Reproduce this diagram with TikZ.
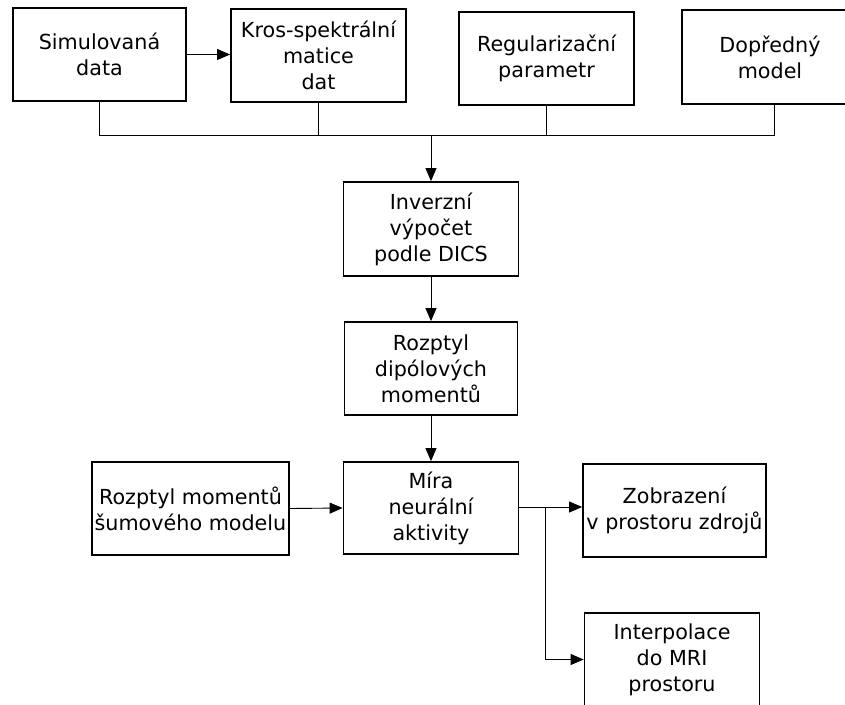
\documentclass[tikz,border=0pt]{standalone}
\usepackage{fontspec}
\setmainfont{DejaVu Sans}
\usetikzlibrary{arrows.meta,calc}
\begin{document}
\begin{tikzpicture}[x=1pt,y=-1pt,
  box/.style={draw, line width=1.8pt, align=center, inner sep=0pt,
    font=\fontsize{20.7}{26}\selectfont},
  link/.style={line width=0.9pt},
  arr/.style={link, -{Triangle[length=13pt,width=11pt]}}]
\useasboundingbox (0,0) rectangle (845,704);
\clip (0,0) rectangle (845,704);

% input blocks
\node[box, minimum width=173pt, minimum height=93pt] (sim) at (99.5,54.5) {Simulovaná\\data};
\node[box, minimum width=175pt, minimum height=93pt] (kros) at (318.5,55.5) {Kros-spektrální\\matice\\dat};
\node[box, minimum width=175pt, minimum height=93pt] (reg) at (546.5,58.5) {Regularizační\\parametr};
\node[box, minimum width=176pt, minimum height=94pt] (dop) at (770,57) {Dopředný\\model};

% processing chain
\node[box, minimum width=175pt, minimum height=94pt] (inv) at (431,229) {Inverzní\\výpočet\\podle DICS};
\node[box, minimum width=173pt, minimum height=93pt] (roz) at (431,368.5) {Rozptyl\\dipólových\\momentů};
\node[box, minimum width=175pt, minimum height=92pt] (mira) at (431,508) {Míra\\neurální\\aktivity};
\node[box, minimum width=197pt, minimum height=93pt] (sum) at (190.5,508.5) {Rozptyl momentů\\šumového modelu};

% outputs
\node[box, minimum width=183pt, minimum height=93pt] (zob) at (674.5,510.5) {Zobrazení\\v prostoru zdrojů};
\node[box, minimum width=175pt, minimum height=93pt] (int) at (672,659.5) {Interpolace\\do MRI\\prostoru};

% collecting bus and branch point
\coordinate (bus) at (431,135);
\coordinate (br) at (545,507);

\draw[arr] (sim.east) -- (sim.east -| kros.west);
\draw[link] (sim.south) |- (bus);
\draw[link] (bus) -| ($(dop.south)+(4,0)$);
\draw[link] (kros.south) -- (kros.south |- bus);
\draw[link] (reg.south) -- (reg.south |- bus);
\draw[arr] (bus) -- (inv.north);
\draw[arr] (inv.south) -- (roz.north);
\draw[arr] (roz.south) -- (mira.north);
\draw[arr] (sum.east) -- (mira.west);
\draw[arr] (mira.east |- br) -- (br -| zob.west);
\draw[arr] (br) |- (int.west);
\end{tikzpicture}
\end{document}
